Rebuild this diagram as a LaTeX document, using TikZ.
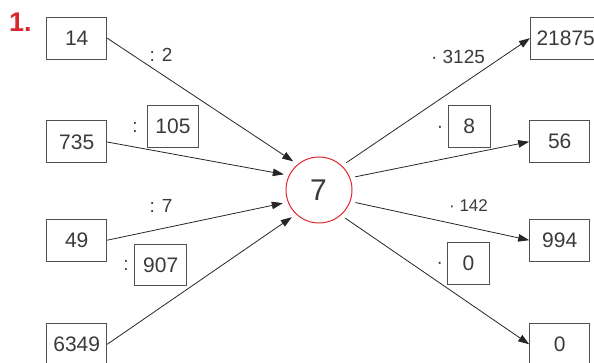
\documentclass[tikz,border=0pt]{standalone}
\usepackage{fontspec}
\setmainfont{Liberation Sans}
\usetikzlibrary{arrows.meta}
\definecolor{txt}{HTML}{3A3A3A}
\definecolor{boxc}{HTML}{505050}
\definecolor{redc}{HTML}{E3262C}
\definecolor{numred}{HTML}{D7282F}
\tikzset{
  numbox/.style={draw=boxc, line width=1pt, minimum height=42pt, inner sep=0pt, text=txt, font=\fontsize{21}{21}\selectfont},
  bigbox/.style={numbox, minimum width=60pt},
  ansbox/.style={numbox, minimum height=41.5pt},
  lbl/.style={anchor=base, text=txt, inner sep=0pt, font=\fontsize{19}{19}\selectfont},
  conn/.style={draw=black!85, line width=0.8pt, -{Triangle[length=11pt,width=7.5pt]}}
}
\begin{document}
\begin{tikzpicture}[x=1pt,y=-1pt]
\useasboundingbox (0,0) rectangle (594,363);
\clip (0,0) rectangle (594,363);
% title
\node[anchor=base west, inner sep=0pt, text=numred, font=\fontsize{27}{27}\selectfont\bfseries] (title) at (9,31.7) {1.};
% centre
\node[circle, draw=redc, line width=1pt, minimum size=66pt, inner sep=0pt, outer sep=5.5pt] (c) at (319,190) {};
\node[anchor=base, inner sep=0pt, text=txt, font=\fontsize{30}{30}\selectfont] (seven) at (318.5,200.5) {7};
% left boxes
\node[bigbox] (a1) at (76.7,38.2) {14};
\node[bigbox] (a2) at (76.7,142) {735};
\node[bigbox] (a3) at (76.7,240.2) {49};
\node[bigbox] (a4) at (76.7,344.3) {6349};
% right boxes
\node[numbox, anchor=west, inner xsep=6pt] (b1) at (530,38.2) {\makebox[72pt][l]{21875}};
\node[bigbox] (b2) at (559.7,141.7) {56};
\node[bigbox] (b3) at (559.7,240.2) {994};
\node[bigbox] (b4) at (559.7,344.3) {0};
% answer boxes
\node[ansbox, minimum width=50.6pt] (q1) at (173,126.7) {105};
\node[ansbox, minimum width=52pt] (q2) at (160.7,264.8) {907};
\node[ansbox, minimum width=41.7pt] (q3) at (469.2,126.7) {8};
\node[ansbox, minimum width=42.4pt] (q4) at (468.5,263.5) {0};
% operator labels
\node[lbl] (l1) at (161,61.7) {: 2};
\node[lbl] (l2) at (135,132.3) {:};
\node[lbl] (l3) at (161,212.3) {: 7};
\node[lbl] (l4) at (126,270.7) {:};
\node[lbl] (r1) at (458,64) {· 3125};
\node[lbl] (r2) at (440,132.3) {·};
\node[lbl, font=\fontsize{17}{17}\selectfont] (r3) at (468.5,211.7) {· 142};
\node[lbl] (r4) at (439.7,268.3) {·};
% connectors
\draw[conn] (a1.east) -- (c.132);
\draw[conn] (a2.east) -- (c.156);
\draw[conn] (a3.east) -- (c.200);
\draw[conn] (a4.east) -- (c.225);
\draw[conn] (c.45) -- (b1.west);
\draw[conn] (c.20) -- (b2.west);
\draw[conn] (c.341) -- (b3.west);
\draw[conn] (c.313) -- (b4.west);
\end{tikzpicture}
\end{document}
